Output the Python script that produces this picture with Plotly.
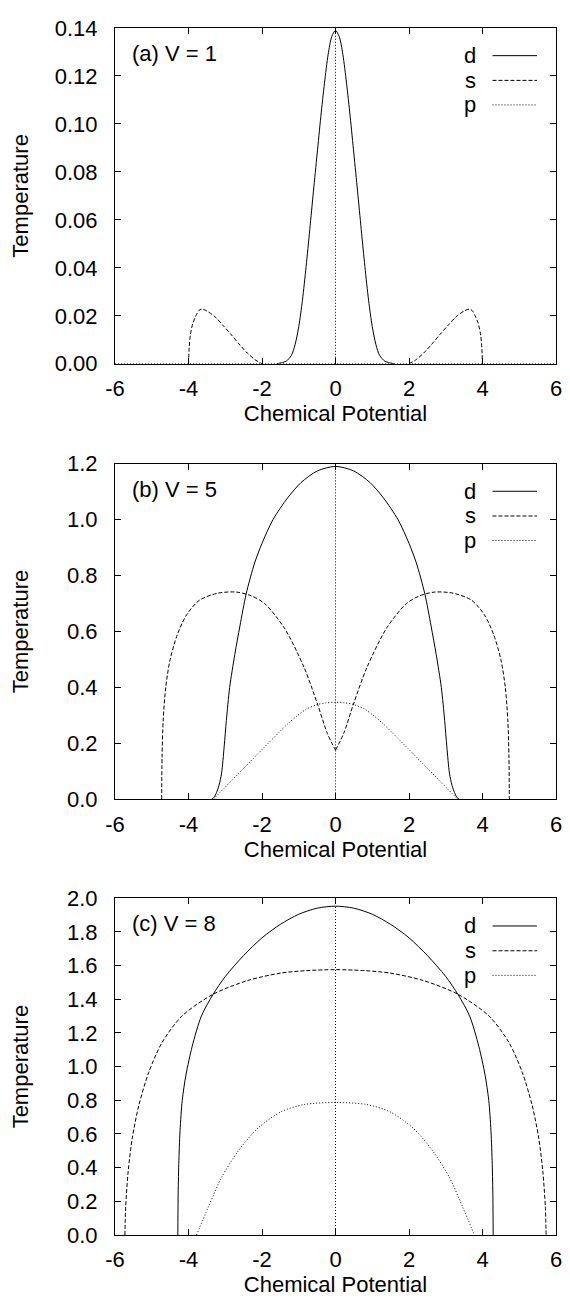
import plotly.graph_objects as go

# ---------------- data ----------------
# Panel (a) V = 1
mu_d_a = [-1.6, -1.35, -1.2, -1.1, -1.0, -0.9, -0.8, -0.7, -0.6, -0.5, -0.4, -0.3, -0.2, -0.1, 0.0,
          0.1, 0.2, 0.3, 0.4, 0.5, 0.6, 0.7, 0.8, 0.9, 1.0, 1.1, 1.2, 1.35, 1.6]
T_d_a = [0.0, 0.001, 0.0035, 0.008, 0.0155, 0.0265, 0.0405, 0.056, 0.072, 0.0875, 0.103, 0.117, 0.129, 0.1365, 0.139,
         0.1365, 0.129, 0.117, 0.103, 0.0875, 0.072, 0.056, 0.0405, 0.0265, 0.0155, 0.008, 0.0035, 0.001, 0.0]
mu_s_a = [-4.0, -3.98, -3.95, -3.88, -3.8, -3.72, -3.64, -3.5, -3.28, -3.05, -2.83, -2.6, -2.4, -2.2, -2.0,
          None,
          2.0, 2.2, 2.4, 2.6, 2.83, 3.05, 3.28, 3.5, 3.64, 3.72, 3.8, 3.88, 3.95, 3.98, 4.0]
T_s_a = [0.0, 0.007, 0.012, 0.017, 0.020, 0.0222, 0.0228, 0.0220, 0.0196, 0.0158, 0.012, 0.0078, 0.0045, 0.0018, 0.0,
         None,
         0.0, 0.0018, 0.0045, 0.0078, 0.012, 0.0158, 0.0196, 0.0220, 0.0228, 0.0222, 0.020, 0.017, 0.012, 0.007, 0.0]
mu_p_a = [-6.0, 6.0]
T_p_a = [0.0, 0.0]

# Panel (b) V = 5
mu_d_b = [-3.37, -3.3, -3.24, -3.17, -3.10, -3.03, -2.97, -2.88, -2.74, -2.60, -2.43, -2.2, -2.0, -1.7, -1.3, -0.94, -0.5, 0.0,
          0.5, 0.94, 1.3, 1.7, 2.0, 2.2, 2.43, 2.60, 2.74, 2.88, 2.97, 3.03, 3.10, 3.17, 3.24, 3.3, 3.37]
T_d_b = [0.0, 0.008, 0.024, 0.05, 0.094, 0.188, 0.282, 0.40, 0.518, 0.62, 0.735, 0.845, 0.915, 1.0, 1.078, 1.132, 1.1735, 1.19,
         1.1735, 1.132, 1.078, 1.0, 0.915, 0.845, 0.735, 0.62, 0.518, 0.40, 0.282, 0.188, 0.094, 0.05, 0.024, 0.008, 0.0]
mu_s_b = [-4.73, -4.72, -4.69, -4.62, -4.50, -4.30, -4.05, -3.70, -3.2, -2.70, -2.3, -1.93, -1.39, -0.85, -0.49, -0.22, 0.0,
          None,
          0.0, 0.22, 0.49, 0.85, 1.39, 1.93, 2.3, 2.70, 3.2, 3.70, 4.05, 4.30, 4.50, 4.62, 4.69, 4.72, 4.73]
T_s_b = [0.0, 0.15, 0.28, 0.40, 0.50, 0.59, 0.66, 0.712, 0.737, 0.741, 0.728, 0.70, 0.612, 0.47, 0.341, 0.235, 0.176,
         None,
         0.176, 0.235, 0.341, 0.47, 0.612, 0.70, 0.728, 0.741, 0.737, 0.712, 0.66, 0.59, 0.50, 0.40, 0.28, 0.15, 0.0]
mu_p_b = [-3.33, -3.0, -2.5, -2.0, -1.57, -1.3, -1.05, -0.8, -0.5, -0.25, 0.0,
          0.25, 0.5, 0.8, 1.05, 1.3, 1.57, 2.0, 2.5, 3.0, 3.33]
T_p_b = [0.0, 0.044, 0.111, 0.178, 0.235, 0.27, 0.298, 0.322, 0.339, 0.345, 0.347,
         0.345, 0.339, 0.322, 0.298, 0.27, 0.235, 0.178, 0.111, 0.044, 0.0]

# Panel (c) V = 8
mu_d_c = [-4.29, -4.283, -4.265, -4.23, -4.17, -4.07, -3.90, -3.65, -3.34, -3.0, -2.5, -2.0, -1.5, -1.0, -0.5, 0.0,
          0.5, 1.0, 1.5, 2.0, 2.5, 3.0, 3.34, 3.65, 3.90, 4.07, 4.17, 4.23, 4.265, 4.283, 4.29]
T_d_c = [0.0, 0.22, 0.42, 0.62, 0.80, 0.95, 1.12, 1.30, 1.426, 1.535, 1.66, 1.765, 1.845, 1.905, 1.941, 1.953,
         1.941, 1.905, 1.845, 1.765, 1.66, 1.535, 1.426, 1.30, 1.12, 0.95, 0.80, 0.62, 0.42, 0.22, 0.0]
mu_s_c = [-5.73, -5.71, -5.64, -5.53, -5.35, -5.08, -4.72, -4.18, -3.33, -2.38, -1.48, -0.8, 0.0,
          0.8, 1.48, 2.38, 3.33, 4.18, 4.72, 5.08, 5.35, 5.53, 5.64, 5.71, 5.73]
T_s_c = [0.0, 0.166, 0.381, 0.576, 0.771, 0.967, 1.143, 1.30, 1.43, 1.512, 1.556, 1.570, 1.576,
         1.570, 1.556, 1.512, 1.43, 1.30, 1.143, 0.967, 0.771, 0.576, 0.381, 0.166, 0.0]
mu_p_c = [-3.78, -3.46, -3.10, -2.65, -2.11, -1.48, -0.85, 0.0, 0.85, 1.48, 2.11, 2.65, 3.10, 3.46, 3.78]
T_p_c = [0.0, 0.166, 0.342, 0.498, 0.635, 0.732, 0.775, 0.787, 0.775, 0.732, 0.635, 0.498, 0.342, 0.166, 0.0]

# vertical marker at mu = 0 (height = d-peak of each panel)
mu_zero = [0.0, 0.0]
T_zero_a = [0.0, 0.139]
T_zero_b = [0.0, 1.19]
T_zero_c = [0.0, 1.953]

panel_labels = ["(a) V = 1", "(b) V = 5", "(c) V = 8"]
y_ranges = [[0, 0.14], [0, 1.2], [0, 2.0]]
y_dticks = [0.02, 0.2, 0.2]
y_formats = [".2f", ".1f", ".1f"]
x_ticks = [-6, -4, -2, 0, 2, 4, 6]
x_ticktext = ["-6", "-4", "-2", "0", "2", "4", "6"]
legend_names = ["d", "s", "p"]
x_title = "Chemical Potential"
y_title = "Temperature"

# ---------------- styling ----------------
FONT = "Liberation Sans, Arial, sans-serif"
FS = 22
DASH = {"d": "solid", "s": "4px,2px", "p": "1px,2px"}
y_domains = [[0.7218, 1.0], [0.3609, 0.6391], [0.0, 0.2790]]
y_title_standoff = [20, 32, 32]

panels = [
    dict(d=(mu_d_a, T_d_a), s=(mu_s_a, T_s_a), p=(mu_p_a, T_p_a), z=(mu_zero, T_zero_a)),
    dict(d=(mu_d_b, T_d_b), s=(mu_s_b, T_s_b), p=(mu_p_b, T_p_b), z=(mu_zero, T_zero_b)),
    dict(d=(mu_d_c, T_d_c), s=(mu_s_c, T_s_c), p=(mu_p_c, T_p_c), z=(mu_zero, T_zero_c)),
]

fig = go.Figure()
layout = {}
shapes = []
annotations = []

for i, pan in enumerate(panels):
    n = i + 1
    xa = "x" if n == 1 else f"x{n}"
    ya = "y" if n == 1 else f"y{n}"
    for key in ["d", "s", "p"]:
        xs, ys = pan[key]
        fig.add_trace(go.Scatter(
            x=xs, y=ys, mode="lines", xaxis=xa, yaxis=ya, showlegend=False,
            connectgaps=False, name=key,
            line=dict(color="black", width=1, dash=DASH[key], shape="spline", smoothing=0.8),
        ))
    xs, ys = pan["z"]
    fig.add_trace(go.Scatter(
        x=xs, y=ys, mode="lines", xaxis=xa, yaxis=ya, showlegend=False,
        line=dict(color="black", width=1, dash="1px,2px"),
    ))

    axis_common = dict(
        showline=True, linecolor="black", linewidth=1, mirror="allticks",
        ticks="inside", ticklen=6, tickcolor="black", tickwidth=1,
        showgrid=False, zeroline=False,
        tickfont=dict(family=FONT, size=FS, color="black"),
    )
    layout["xaxis" if n == 1 else f"xaxis{n}"] = dict(
        axis_common, domain=[0, 1], range=[-6, 6], tickvals=x_ticks, ticktext=x_ticktext,
        anchor=ya, ticklabelstandoff=5,
        title=dict(text=x_title, font=dict(family=FONT, size=FS, color="black"), standoff=1),
    )
    layout["yaxis" if n == 1 else f"yaxis{n}"] = dict(
        axis_common, domain=y_domains[i], range=y_ranges[i], dtick=y_dticks[i], tick0=0,
        tickformat=y_formats[i], anchor=xa, ticklabelstandoff=12,
        title=dict(text=y_title, font=dict(family=FONT, size=FS, color="black"),
                   standoff=y_title_standoff[i]),
    )

    xref = f"{xa} domain"
    yref = f"{ya} domain"
    annotations.append(dict(
        text=panel_labels[i], xref=xref, yref=yref, x=0.035, y=0.924,
        xanchor="left", yanchor="middle", showarrow=False,
        font=dict(family=FONT, size=FS, color="black"),
    ))
    row_y = [0.9176, 0.844, 0.771]
    for k, name in enumerate(legend_names):
        annotations.append(dict(
            text=name, xref=xref, yref=yref, x=0.8225, y=row_y[k],
            xanchor="right", yanchor="middle", showarrow=False,
            font=dict(family=FONT, size=FS, color="black"),
        ))
        shapes.append(dict(
            type="line", xref=xref, yref=yref, x0=0.856, x1=0.957, y0=row_y[k], y1=row_y[k],
            line=dict(color="black", width=1, dash=DASH[name]),
        ))

# the page adds an 8px body margin, so the figure is sized to fit the 570x1305 window
fig.update_layout(
    **layout,
    width=562, height=1289,
    margin=dict(l=107, r=10, t=8, b=59),
    paper_bgcolor="white", plot_bgcolor="white",
    font=dict(family=FONT, size=FS, color="black"),
    shapes=shapes, annotations=annotations,
    showlegend=False,
)

fig.write_html("out.html")
